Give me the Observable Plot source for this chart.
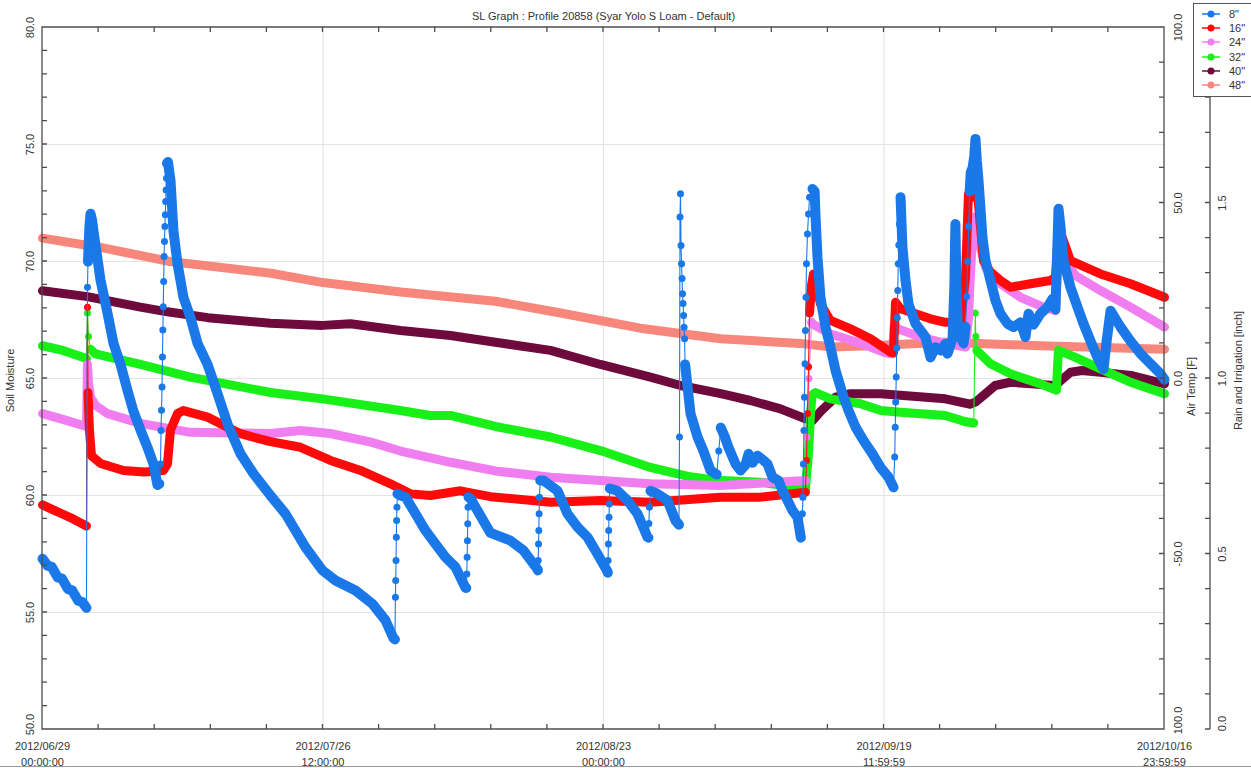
<!DOCTYPE html>
<html>
<head>
<meta charset="utf-8">
<script src="https://cdn.jsdelivr.net/npm/d3@7"></script>
<script src="https://cdn.jsdelivr.net/npm/@observablehq/plot@0.6"></script>
<style>
  body { margin: 0; background: #fff; overflow: hidden; font-family: "Liberation Sans", Arial, sans-serif; }
  #wrap { position: relative; width: 1251px; height: 768px; }
  #legend { position: absolute; left: 1193px; top: 3px; width: 70px; height: 94px; border: 1px solid #555;
            background: #fff; box-sizing: border-box; padding-top: 3px; font-size: 11px; color: #333; }
  .item { display: flex; align-items: center; height: 14.2px; padding-left: 8px; }
  .item svg { margin-right: 9px; }
  #base { position: absolute; left: 0; top: 766px; width: 1251px; height: 1px; background: #9a9a9a; }
</style>
</head>
<body>
<div id="wrap"><div id="base"></div></div>
<script>
// Soil moisture readings per sensor depth: [days since 2012/06/29 00:00, moisture, fastRise?]
// Points flagged with 1 belong to rapid wetting jumps (drawn as single dots on a thin line).
const depth8 = [
  [0,57.3],[0.5,57.0],[0.9,56.95],[1.5,56.5],[1.9,56.45],[2.5,56.0],[2.9,55.95],[3.5,55.5],[3.9,55.45],[4.31,55.2],
  [4.41,68.9,1],
  [4.46,70.0],[4.6,71.5],[4.71,72.04],[4.85,71.8],[5.0,71.3],[5.69,69.2],[6.37,67.8],[6.96,66.5],[7.65,65.6],[8.33,64.5],[8.92,63.6],[9.61,62.8],[10.29,62.06],[10.88,61.35],[11.27,60.45],[11.45,60.5],
  [11.57,61.35,1],[11.62,62.78,1],[11.67,63.64,1],[11.72,64.64,1],[11.76,65.92,1],[11.8,67.07,1],[11.84,68.07,1],[11.88,69.14,1],[11.92,70.21,1],[11.96,70.85,1],[12.0,71.5,1],[12.04,72.0,1],[12.08,72.56,1],[12.12,73.06,1],[12.16,73.56,1],
  [12.2,74.2],[12.3,74.25],[12.55,73.46],[12.84,71.3],[13.24,69.9],[13.82,68.47],[14.51,67.6],[15.2,66.5],[16.18,65.6],[17.16,64.35],[18.14,63.06],[19.41,61.78],[20.69,60.93],[22.35,60.0],[23.82,59.22],[25.78,57.79],[27.45,56.8],[28.73,56.37],[30.69,55.94],[32.35,55.37],[33.63,54.66],[34.41,53.9],[34.55,53.85],
  [34.6,55.65,1],[34.63,56.37,1],[34.66,57.22,1],[34.69,58.22,1],[34.72,58.93,1],[34.75,59.5,1],
  [34.8,60.07],[35.1,60.0],[35.59,59.93],[36.57,59.22],[37.55,58.5],[38.53,57.93],[39.51,57.36],[40.49,56.94],[41.47,56.05],[41.55,56.05],
  [41.6,56.65,1],[41.63,57.36,1],[41.66,58.07,1],[41.69,58.79,1],[41.72,59.5,1],
  [41.76,59.93],[42.0,59.85],[42.45,59.5],[43.92,58.4],[45.88,58.07],[47.16,57.65],[48.53,56.85],[48.57,56.8],
  [48.6,57.22,1],[48.63,57.93,1],[48.66,58.5,1],[48.69,59.22,1],[48.72,59.93,1],
  [48.8,60.64],[49.12,60.64],[50.49,60.2],[51.47,59.22],[52.45,58.65],[53.43,58.22],[54.41,57.5],[55.39,56.75],[55.42,56.7],
  [55.45,57.22,1],[55.48,57.93,1],[55.51,58.5,1],[55.54,59.07,1],[55.57,59.64,1],
  [55.62,60.3],[56.37,60.2],[57.35,59.79],[58.33,59.22],[59.31,58.22],[59.4,58.2],
  [59.45,58.8,1],[59.5,59.5,1],
  [59.61,60.2],[60.29,60.07],[61.27,59.79],[62.06,58.93],[62.4,58.75],
  [62.45,62.5,1],[62.5,71.9,1],[62.55,72.9,1],[62.6,70.68,1],[62.65,69.9,1],[62.7,69.27,1],[62.75,68.62,1],[62.8,68.2,1],[62.85,67.69,1],[62.9,67.19,1],[62.95,66.7,1],
  [63.0,65.6],[63.53,63.5],[64.22,62.5],[64.8,61.9],[65.49,61.07],[66.1,60.9],
  [66.3,61.9,1],
  [66.5,62.9],[66.9,62.5],[67.25,62.06],[67.94,61.35],[68.43,61.07],[68.9,61.3],[69.22,61.78],[69.61,61.4],[70.1,61.7],[70.69,61.5],[71.08,61.35],[71.57,60.78],[72.16,60.64],[72.55,60.2],[73.04,59.79],[73.53,59.36],[74.02,59.07],[74.35,58.2],
  [74.5,59.22,1],[74.55,59.93,1],[74.6,61.35,1],[74.65,62.78,1],[74.7,64.2,1],[74.75,65.63,1],[74.8,67.05,1],[74.85,68.47,1],[74.9,69.9,1],[75.0,71.18,1],[75.1,72.03,1],[75.2,72.75,1],
  [75.49,73.1],[75.7,73.0],[75.78,72.0],[75.98,70.18],[76.27,68.47],[76.76,67.2],[77.25,66.34],[77.75,65.34],[78.43,64.35],[79.02,63.63],[79.71,62.92],[80.49,62.35],[81.37,61.78],[82.16,61.2],[82.94,60.78],[83.43,60.35],
  [83.55,61.64,1],[83.6,62.92,1],[83.65,64.0,1],[83.7,65.06,1],[83.75,66.3,1],[83.8,67.6,1],[83.85,68.76,1],[83.9,69.9,1],[83.95,70.7,1],[84.0,71.6,1],[84.05,72.46,1],
  [84.12,72.75],[84.31,70.6],[84.61,69.19],[84.9,68.19],[85.59,67.34],[86.57,66.77],[87.06,65.9],[87.55,66.34],[88.04,66.2],[88.53,66.48],[88.73,66.06],[89.22,66.7],[89.4,69.0],[89.5,71.6],[89.6,69.0],[89.75,67.0],[90.0,66.77],[90.3,66.5],[90.49,67.2],
  [90.6,68.5,1],[90.7,70.0,1],[90.8,71.5,1],
  [90.9,73.0],[91.0,73.8],[91.18,74.0],[91.35,74.5],[91.47,75.24],[91.6,74.3],[91.76,73.5],[92.0,72.0],[92.16,71.0],[92.45,70.04],[92.94,69.19],[93.43,68.33],[93.92,67.77],[94.61,67.34],[95.2,67.2],[95.88,67.4],[96.37,66.77],[96.67,67.77],[97.16,67.3],[97.84,67.77],[98.53,68.05],[99.02,68.4],[99.31,67.95],[99.45,70.0],[99.61,72.25],[99.8,71.5],[100.1,70.04],[100.78,68.9],[101.47,68.05],[102.06,67.34],[102.75,66.6],[103.43,65.9],[104.02,65.4],[104.3,66.5],[104.71,67.9],[105.69,67.2],[106.67,66.6],[107.65,66.06],[108.63,65.63],[109.61,65.2],[110,64.95]
];
const depth16 = [
  [0,59.6],[1.0,59.4],[2.0,59.2],[3.0,59.0],[4.31,58.7],
  [4.41,68.05,1],
  [4.46,64.4],[4.6,62.8],[4.8,61.7],[5.69,61.37],[7.94,61.07],[10.0,61.0],[11.86,61.07],[12.25,61.35],[12.55,62.8],[13.24,63.5],[13.82,63.63],[16.18,63.35],[19.41,62.64],[22.35,62.3],[25.29,62.06],[28.24,61.5],[31.18,61.07],[34.12,60.5],[36.08,60.07],[38.04,60.0],[40.98,60.2],[43.92,59.95],[49.8,59.71],[54.71,59.79],[59.61,59.71],[66.47,59.93],[70.39,59.93],[74.8,60.14],
  [74.9,61.5,1],[75.0,63.5,1],[75.1,65.5,1],
  [75.2,67.8],[75.4,69.0],[75.59,69.47],[76.27,68.19],[77.25,67.48],[79.22,67.12],[81.18,66.7],[83.14,66.12],[83.43,66.1],[83.63,68.26],[84.12,67.98],[87.06,67.55],[88.53,67.4],[90.0,67.4],[90.49,69.33],[90.78,72.89],[91.18,72.75],[91.47,74.17],[91.76,72.47],[92.25,70.04],[92.94,69.55],[93.92,69.19],[94.9,68.9],[96.86,69.05],[98.82,69.19],[99.31,69.33],[99.61,71.18],[100.0,71.0],[100.78,70.04],[103.73,69.47],[106.67,69.05],[110,68.47]
];
const depth24 = [
  [0,63.5],[2.0,63.25],[4.31,62.95],[4.41,65.6],[4.51,64.8],[4.71,64.2],[5.2,63.85],[6.37,63.5],[9.6,63.08],[14.5,62.7],[22.35,62.65],[25.3,62.78],[28.2,62.65],[32.2,62.28],[35.1,61.9],[40.0,61.42],[44.4,61.05],[49.8,60.78],[54.7,60.64],[59.6,60.5],[66.5,60.43],[74.8,60.64],
  [74.95,62.5,1],[75.15,65.0,1],
  [75.4,67.4],[75.6,67.3],[77.25,66.9],[80.2,66.5],[82.65,66.1],[83.33,66.06],[83.5,67.26],[84.0,67.1],[86.08,66.77],[88.5,66.5],[90.5,66.34],[90.78,67.6],[90.98,69.5],[91.2,71.2],[91.4,71.9],[91.6,71.2],[92.45,69.76],[93.92,69.05],[95.88,68.47],[97.84,68.1],[99.31,67.9],[99.61,70.6],[99.8,70.3],[101.27,69.4],[103.73,68.76],[106.67,68.05],[110,67.2]
];
const depth32 = [
  [0,66.4],[2.0,66.2],[4.31,65.85],
  [4.41,67.8,1],[4.51,66.8,1],
  [4.71,66.25],[5.2,66.05],[9.6,65.6],[14.5,65.06],[22.35,64.4],[27.45,64.13],[35.1,63.63],[38.0,63.42],[40.0,63.42],[44.4,62.95],[49.8,62.5],[54.7,61.92],[59.6,61.2],[63.5,60.8],[66.0,60.65],[70.4,60.57],[74.8,60.3],[75.1,61.8],[75.3,63.5],[75.45,64.3],[75.8,64.4],[77.25,64.13],[80.2,63.92],[82.2,63.63],[84.1,63.56],[88.5,63.42],[90.5,63.15],[91.3,63.1],
  [91.45,67.8,1],[91.5,66.8,1],
  [91.6,66.2],[92.94,65.63],[94.9,65.2],[97.84,64.77],[99.4,64.5],[99.5,65.35],[99.6,66.2],[101.27,65.9],[103.73,65.41],[106.67,64.84],[110,64.35]
];
const depth40 = [
  [0,68.75],[4.4,68.5],[9.6,68.05],[12.25,67.85],[16.2,67.6],[22.35,67.36],[27.45,67.27],[30.2,67.34],[35.1,67.05],[40.0,66.84],[44.4,66.55],[49.8,66.2],[54.7,65.6],[59.6,65.06],[62.55,64.7],[66.5,64.35],[69.4,64.06],[72.35,63.7],[74.8,63.28],[75.5,63.2],[76.3,63.6],[77.75,64.2],[79.2,64.35],[82.2,64.35],[88.5,64.13],[90.98,63.9],[91.5,64.0],[92.45,64.35],[93.4,64.7],[94.9,64.84],[96.9,64.77],[99.3,64.7],[99.8,64.9],[100.8,65.27],[101.9,65.34],[103.7,65.27],[106.7,65.13],[110,64.77]
];
const depth48 = [
  [0,71.0],[5.7,70.6],[12.5,70.0],[22.4,69.5],[27.5,69.1],[35.1,68.7],[44.4,68.3],[50.8,67.8],[58.6,67.15],[66.5,66.7],[74.3,66.5],[77.3,66.35],[81.2,66.4],[88.5,66.55],[97.8,66.4],[110,66.25]
];

const depthNames = ['8"', '16"', '24"', '32"', '40"', '48"'];
const depthColors = ["#1a78e8", "#ff0a0a", "#f07ef0", "#18f018", "#6e0a3c", "#f8877b"];
const depthData = [depth8, depth16, depth24, depth32, depth40, depth48];

// Axis ticks and labels
const soilLabelTicks = [50, 55, 60, 65, 70, 75, 80];
const airLabelTicks = [-100, -50, 0, 50, 100];
const airLabelText = ["100.0", "-50.0", "0.0", "50.0", "100.0"];
const rainLabelTicks = [0, 0.5, 1.0, 1.5];
const dateLabelDays = [0, 27.5, 55, 82.5, 110];
const dateLabelText = ["2012/06/29\n00:00:00", "2012/07/26\n12:00:00", "2012/08/23\n00:00:00", "2012/09/19\n11:59:59", "2012/10/16\n23:59:59"];
const gridSoil = [55, 60, 65, 70, 75];
const gridDays = [27.5, 55, 82.5];

const t0 = Date.UTC(2012, 5, 29);
const DAY = 864e5;
const toDate = d => new Date(Math.min(t0 + d * DAY, t0 + 110 * DAY - 1000));
// secondary axes expressed in soil-moisture units
const airToSoil = f => 65 + f * 0.15;
const rainToSoil = r => 50 + r * 15;

function rowsOf(points) {
  let run = 0, prevRise = true;
  return points.map(([d, v, f]) => {
    const rise = f === 1;
    if (!rise && prevRise) run++;
    prevRise = rise;
    return {t: toDate(d), v, rise, run};
  });
}

// Frame, inward ticks and the two right-hand axes
function frameAndTicks(index, scales, values, dims) {
  const {x, y} = scales;
  const L = dims.marginLeft, R = dims.width - dims.marginRight;
  const T = dims.marginTop, B = dims.height - dims.marginBottom;
  const p = d3.path();
  p.moveTo(L, T); p.lineTo(R, T); p.lineTo(R, B); p.lineTo(L, B); p.closePath();
  for (const d of d3.range(0, 110.01, 5.5)) {
    const px = x(toDate(d));
    p.moveTo(px, B); p.lineTo(px, B - 5);
    p.moveTo(px, T); p.lineTo(px, T + 5);
  }
  for (const v of d3.range(50, 80.01, 1)) { const py = y(v); p.moveTo(L, py); p.lineTo(L + 5, py); }
  for (const f of d3.range(-100, 100.01, 10)) { const py = y(airToSoil(f)); p.moveTo(R, py); p.lineTo(R - 5, py); }
  const RA = R + 46;
  p.moveTo(RA, T); p.lineTo(RA, B);
  for (const r of d3.range(0, 2.001, 0.1)) { const py = y(rainToSoil(r)); p.moveTo(RA - 5, py); p.lineTo(RA, py); }
  const g = d3.create("svg:g");
  g.append("path").attr("d", p.toString()).attr("fill", "none").attr("stroke", "#4d4d4d").attr("stroke-width", 1.3);
  return g.node();
}

const seriesMarks = [];
for (let i = depthData.length - 1; i >= 0; i--) {
  const rows = rowsOf(depthData[i]);
  const color = depthColors[i];
  seriesMarks.push(
    Plot.line(rows.filter(d => !d.rise), {x: "t", y: "v", z: "run", stroke: color, strokeWidth: i === 0 ? 10 : 9,
      strokeLinecap: "round", strokeLinejoin: "round"}),
    Plot.line(rows, {x: "t", y: "v", stroke: color, strokeWidth: 1.1}),
    Plot.dot(rows, {x: "t", y: "v", r: 3.5, fill: color})
  );
}

// centred text (frame-anchored text would otherwise align start/end)
const textStyle = {fill: "#333", fontSize: 11, textAnchor: "middle", lineAnchor: "middle"};

const chart = Plot.plot({
  width: 1251,
  height: 768,
  marginLeft: 42,
  marginRight: 87,
  marginTop: 27,
  marginBottom: 39,
  style: {fontFamily: "'Liberation Sans', Arial, sans-serif", background: "#fff", overflow: "visible"},
  x: {type: "utc", domain: [toDate(0), toDate(110)], axis: null},
  y: {domain: [50, 80], axis: null},
  marks: [
    Plot.ruleY(gridSoil, {y: d => d, stroke: "#e4e4e4", strokeWidth: 1.2}),
    Plot.ruleX(gridDays, {x: d => toDate(d), stroke: "#e4e4e4", strokeWidth: 1.2}),
    ...seriesMarks,
    frameAndTicks,
    // the lowest label of each vertical axis sits just above the axis end
    Plot.text(soilLabelTicks.slice(1), {frameAnchor: "left", y: d => d, text: d => d.toFixed(1), rotate: -90, dx: -12, ...textStyle}),
    Plot.text(soilLabelTicks.slice(0, 1), {frameAnchor: "left", y: d => d, text: d => d.toFixed(1), rotate: -90, dx: -12, dy: -5, ...textStyle}),
    Plot.text(airLabelTicks.slice(1), {frameAnchor: "right", y: airToSoil, text: (d, i) => airLabelText[i + 1], rotate: -90, dx: 14, ...textStyle}),
    Plot.text(airLabelTicks.slice(0, 1), {frameAnchor: "right", y: airToSoil, text: () => airLabelText[0], rotate: -90, dx: 14, dy: -9, ...textStyle}),
    Plot.text(rainLabelTicks.slice(1), {frameAnchor: "right", y: rainToSoil, text: d => d.toFixed(1), rotate: -90, dx: 58, ...textStyle}),
    Plot.text(rainLabelTicks.slice(0, 1), {frameAnchor: "right", y: rainToSoil, text: d => d.toFixed(1), rotate: -90, dx: 58, dy: -6, ...textStyle}),
    Plot.text(dateLabelDays, {x: toDate, frameAnchor: "bottom", text: (d, i) => dateLabelText[i], dy: 23, lineHeight: 1.45, ...textStyle}),
    Plot.text(["Soil Moisture"], {frameAnchor: "left", dx: -32, dy: 2, rotate: -90, ...textStyle}),
    Plot.text(["Air Temp [F]"], {frameAnchor: "right", dx: 27, dy: 8, rotate: -90, ...textStyle}),
    Plot.text(["Rain and Irrigation [inch]"], {frameAnchor: "right", dx: 74, dy: -8, rotate: -90, ...textStyle}),
    Plot.text(["SL Graph : Profile 20858 (Syar Yolo S Loam - Default)"], {frameAnchor: "top", dy: -11, ...textStyle})
  ]
});

const wrap = document.getElementById("wrap");
wrap.insertBefore(chart, wrap.firstChild);

// Legend box
const legend = document.createElement("div");
legend.id = "legend";
depthNames.forEach((name, i) => {
  const item = document.createElement("div");
  item.className = "item";
  const sw = d3.create("svg").attr("width", 18).attr("height", 10);
  sw.append("line").attr("x1", 0).attr("x2", 18).attr("y1", 5).attr("y2", 5).attr("stroke", depthColors[i]).attr("stroke-width", 1.5);
  sw.append("circle").attr("cx", 9).attr("cy", 5).attr("r", 3.5).attr("fill", depthColors[i]);
  item.appendChild(sw.node());
  const label = document.createElement("span");
  label.textContent = name;
  item.appendChild(label);
  legend.appendChild(item);
});
wrap.appendChild(legend);
</script>
</body>
</html>
